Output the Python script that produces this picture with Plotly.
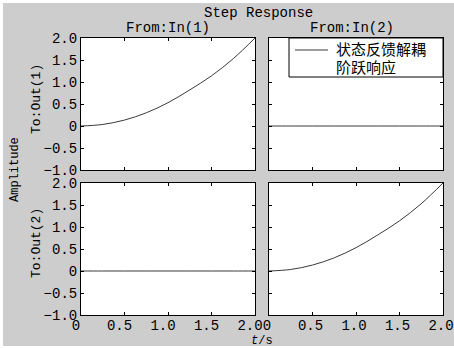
import plotly.graph_objects as go

# ---- data ----
t_vals = [0, 0.25, 0.5, 0.75, 1.0, 1.25, 1.5, 1.75, 2.0]
resp_diag = [0, 0.035, 0.135, 0.3, 0.53, 0.82, 1.14, 1.53, 2.0]  # Out(1)<-In(1), Out(2)<-In(2)
resp_off = [0, 0, 0, 0, 0, 0, 0, 0, 0]                           # cross-coupling (decoupled)
y_ticks = [-1, -0.5, 0, 0.5, 1, 1.5, 2]
y_tick_text = ["\u22121.0", "\u22120.5", "0", "0.5", "1.0", "1.5", "2.0"]
x_ticks = [0, 0.5, 1, 1.5, 2]
x_tick_text = ["0", "0.5", "1.0", "1.5", "2.0"]
legend_lines = ["状态反馈解耦", "阶跃响应"]

W, H = 454, 348
BG = "#cdcdcd"
LINE = "#3a3a3a"
MONO = "Liberation Mono, DejaVu Sans Mono, monospace"
CJK = "Noto Sans CJK SC"

def px(x):
    return x / W

def py(y):
    return 1 - y / H

fig = go.Figure()
panels = [
    ("x", "y", resp_diag),
    ("x2", "y2", resp_off),
    ("x3", "y3", resp_off),
    ("x4", "y4", resp_diag),
]
for xa, ya, vals in panels:
    fig.add_trace(go.Scatter(
        x=t_vals, y=vals, xaxis=xa, yaxis=ya, mode="lines",
        line=dict(color=LINE, width=1, shape="spline"),
        name="".join(legend_lines), showlegend=False,
    ))

xdom_l = [px(81), px(255)]
xdom_r = [px(269), px(443)]
ydom_t = [py(170), py(38)]
ydom_b = [py(315), py(183)]

common = dict(showline=True, linecolor="black", linewidth=1, mirror="ticks",
              ticks="inside", ticklen=3, tickcolor="black", showgrid=False,
              zeroline=False, tickfont=dict(family=MONO, size=14, color="black"))

def xax(dom, anchor, labels, shift):
    return dict(domain=dom, anchor=anchor, range=[0, 2], tickvals=x_ticks,
                ticktext=x_tick_text, showticklabels=labels, ticklabelshift=shift,
                ticklabelstandoff=-3, **common)

def yax(dom, anchor, labels):
    return dict(domain=dom, anchor=anchor, range=[-1, 2], tickvals=y_ticks,
                ticktext=y_tick_text, showticklabels=labels, **common)

fig.update_layout(
    width=W, height=H,
    margin=dict(l=0, r=0, t=0, b=0, autoexpand=False),
    paper_bgcolor=BG, plot_bgcolor="white",
    xaxis=xax(xdom_l, "y", False, -5),
    yaxis=yax(ydom_t, "x", True),
    xaxis2=xax(xdom_r, "y2", False, -2),
    yaxis2=yax(ydom_t, "x2", False),
    xaxis3=xax(xdom_l, "y3", True, -5),
    yaxis3=yax(ydom_b, "x3", True),
    xaxis4=xax(xdom_r, "y4", True, -2),
    yaxis4=yax(ydom_b, "x4", False),
    showlegend=False,
)

def ann(text, x, y, size=14, angle=0, family=MONO, xanchor="center"):
    fig.add_annotation(text=text, x=px(x), y=py(y), xref="paper", yref="paper",
                       showarrow=False, textangle=angle, xanchor=xanchor, yanchor="middle",
                       font=dict(family=family, size=size, color="black"))

ann("Step Response", 258, 13)
ann("From:In(1)", 168, 28)
ann("From:In(2)", 352, 28)
ann("Amplitude", 15, 170, size=12, angle=-90)
ann("To:Out(1)", 36, 99, size=13, angle=-90)
ann("To:Out(2)", 36, 243, size=13, angle=-90)
ann("<i>t</i>/s", 262, 341, size=12)

# legend box (top-right panel)
fig.add_shape(type="rect", xref="paper", yref="paper",
              x0=px(289), x1=px(443), y0=py(77), y1=py(38),
              fillcolor="white", line=dict(color="black", width=1), layer="above")
fig.add_shape(type="line", xref="paper", yref="paper",
              x0=px(295), x1=px(328), y0=py(50), y1=py(50),
              line=dict(color=LINE, width=1), layer="above")
ann(legend_lines[0], 334, 49, size=15, family=CJK, xanchor="left")
ann(legend_lines[1], 334, 66, size=15, family=CJK, xanchor="left")

# thin white frame at image edges
for x0, y0, x1, y1 in [(0, 0, W, 3), (0, 0, 3, H), (0, 346, W, H)]:
    fig.add_shape(type="rect", xref="paper", yref="paper",
                  x0=px(x0), x1=px(x1), y0=py(y1), y1=py(y0),
                  fillcolor="white", line=dict(width=0), layer="above")

fig.write_html("out.html", config={"displayModeBar": False},
               post_script="document.body.style.margin='0';document.body.style.overflow='hidden';")
